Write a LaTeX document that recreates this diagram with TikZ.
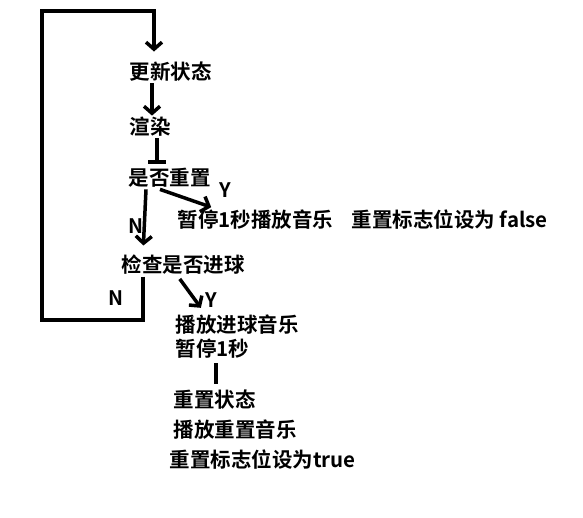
\documentclass[tikz,border=0pt]{standalone}
\usepackage{fontspec}
\setmainfont{Noto Sans CJK SC}[BoldFont={* Bold}]
\usepackage{tikz}
\usetikzlibrary{arrows.meta}

\begin{document}
\begin{tikzpicture}[x=1pt,y=-1pt,->,>={Straight Barb[length=7pt,width=16pt]},
                    line width=3.5pt]
  \tikzstyle{txt}=[anchor=west,inner sep=0pt,font=\fontsize{20.5}{24}\selectfont\bfseries]
  \tikzstyle{yn}=[inner sep=0pt,font=\fontsize{20}{24}\selectfont\bfseries]
  \useasboundingbox (0,0) rectangle (583,517);

  \node[txt] (update)     at (128,72)  {更新状态};
  \node[txt] (render)     at (128,127) {渲染};
  \node[txt] (reset)      at (127,178) {是否重置};
  \node[txt] (pause)      at (176,220) {暂停1秒播放音乐};
  \node[txt] (flagfalse)  at (350,220) {重置标志位设为 false};
  \node[txt] (check)      at (120,265) {检查是否进球};
  \node[txt] (playgoal)   at (174,325) {播放进球音乐};
  \node[txt] (pauseone)   at (174,349) {暂停1秒};
  \node[txt] (resetstate) at (172,400) {重置状态};
  \node[txt] (playreset)  at (172,430) {播放重置音乐};
  \node[txt] (flagtrue)   at (168,460) {重置标志位设为true};

  \node[yn] (resetY) at (225,190) {Y};
  \node[yn] (resetN) at (136,226) {N};
  \node[yn] (checkY) at (211,300) {Y};
  \node[yn] (checkN) at (116,298) {N};

  \coordinate (loopbl) at (42,320);
  \coordinate (looptl) at (42,11);

  % main line
  \draw ([xshift=24pt]update.south west) -- ([xshift=24pt]render.north west);
  \draw[-{Bar[width=18pt]},shorten >=3pt] ([xshift=29pt]render.south west) -- ([xshift=30pt]reset.north west);
  \draw[shorten >=4pt] ([xshift=33pt]reset.south west) -- ([xshift=39pt]pause.north west);
  \draw[shorten >=8pt] ([xshift=19pt]reset.south west) -- ([xshift=23pt]check.north west);
  \draw[shorten <=3pt,shorten >=7pt] ([xshift=58pt]check.south west) -- ([xshift=31pt]playgoal.north west);
  \draw[-,shorten <=3pt,shorten >=5pt] ([xshift=42pt]pauseone.south west) -- ([xshift=44pt]resetstate.north west);

  % back to the top
  \draw[shorten >=9pt] ([xshift=23pt]check.south west) |- (loopbl) -- (looptl)
        -| ([xshift=26pt]update.north west);
\end{tikzpicture}
\end{document}
